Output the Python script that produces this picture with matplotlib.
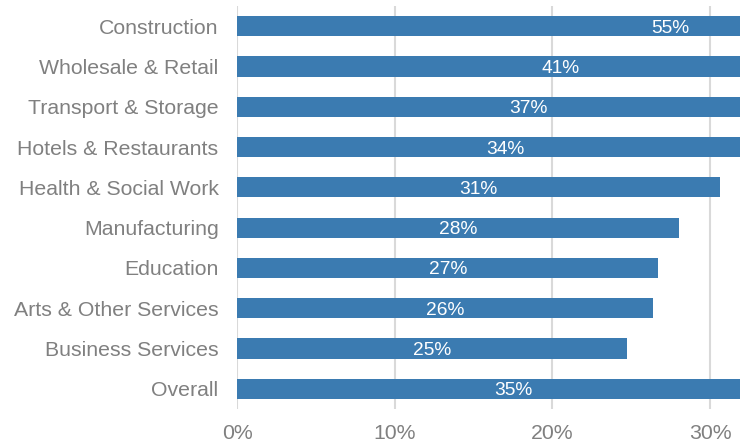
import matplotlib.pyplot as plt
from matplotlib.ticker import FuncFormatter

sectors = [
    'Construction', 'Wholesale & Retail', 'Transport & Storage',
    'Hotels & Restaurants', 'Health & Social Work', 'Manufacturing',
    'Education', 'Arts & Other Services', 'Business Services', 'Overall',
]
shares = [55, 41, 37, 34, 30.6, 28.0, 26.7, 26.4, 24.7, 35]
x_ticks = [0, 10, 20, 30]

BAR_COLOR = '#3b7bb1'
TEXT_GRAY = '#808080'


def plot_shares():
    plt.rcParams['font.family'] = ['Liberation Sans', 'DejaVu Sans']
    fig = plt.figure(figsize=(7.4, 4.43), dpi=100)
    ax = fig.add_axes([0.3207, 0.0767, 0.6793, 0.9097])

    pos = list(range(len(sectors)))
    ax.barh(pos, shares, height=0.5, color=BAR_COLOR, zorder=2)

    # value labels sit in the middle of each bar
    for y, v in zip(pos, shares):
        ax.text(v / 2, y, f'{v:.0f}%', color='white', fontsize=13.8,
                ha='center', va='center_baseline', zorder=3)

    ax.set_yticks(pos)
    ax.set_yticklabels(sectors)
    ax.set_ylim(len(sectors) - 0.5, -0.5)
    ax.set_xlim(0, 31.9)
    ax.set_xticks(x_ticks)
    ax.xaxis.set_major_formatter(FuncFormatter(lambda v, _: f'{v:.0f}%'))

    ax.tick_params(axis='y', length=0, pad=13.5, labelsize=15.3, labelcolor=TEXT_GRAY)
    ax.tick_params(axis='x', length=0, pad=11, labelsize=15.3, labelcolor=TEXT_GRAY)
    ax.grid(axis='x', color='#d9d9d9', linewidth=1.5, zorder=0)
    ax.set_axisbelow(True)
    for side in ax.spines.values():
        side.set_visible(False)

    fig.savefig('out.png', dpi=100)


if __name__ == '__main__':
    plot_shares()
